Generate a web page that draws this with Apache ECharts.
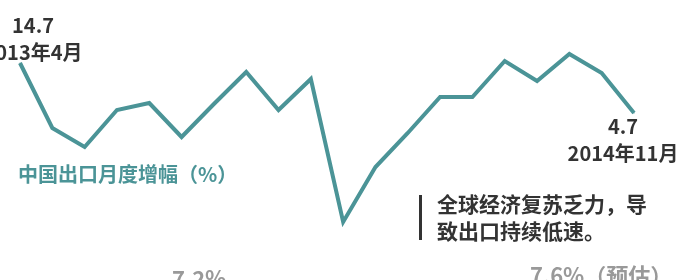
<!DOCTYPE html>
<html>
<head>
<meta charset="utf-8">
<script src="https://cdn.jsdelivr.net/npm/echarts@6/dist/echarts.min.js"></script>
<style>
  html, body { margin: 0; padding: 0; background: #fff; }
  #chart { width: 698px; height: 280px; }
</style>
</head>
<body>
<div id="chart"></div>
<script>
const months = [
  '2013年4月', '2013年5月', '2013年6月', '2013年7月', '2013年8月', '2013年9月',
  '2013年10月', '2013年11月', '2013年12月', '2014年1月', '2014年2月', '2014年3月',
  '2014年4月', '2014年5月', '2014年6月', '2014年7月', '2014年8月', '2014年9月',
  '2014年10月', '2014年11月'
]
const exportGrowth = [
  14.7, 1.7, -2.1, 5.3, 6.7, -0.1, 6.5, 12.9, 5.3, 11.5,
  -17.1, -6.1, 0.7, 7.9, 7.9, 15.1, 11.1, 16.5, 12.7, 4.7
]
const seriesTitle = '中国出口月度增幅（%）'
const noteLines = ['全球经济复苏乏力，导', '致出口持续低速。']
const yearFigures = ['7.2%', '7.6%（预估）']

const teal = '#4b9497'
const font = '"Noto Sans CJK SC", "Noto Sans", sans-serif'
const last = exportGrowth.length - 1

const chart = echarts.init(document.getElementById('chart'))

chart.setOption({
  animation: false,
  grid: { left: 20, right: 64, top: 36.5, bottom: 43.5 },
  xAxis: {
    type: 'category',
    data: months,
    boundaryGap: false,
    show: false
  },
  yAxis: {
    type: 'value',
    min: -20,
    max: 20,
    show: false
  },
  series: [
    {
      type: 'line',
      symbol: 'circle',
      symbolSize: 1,
      showSymbol: true,
      showAllSymbol: true,
      itemStyle: { color: teal },
      lineStyle: { color: teal, width: 4, join: 'miter' },
      data: exportGrowth.map((v, i) => {
        if (i === 0) {
          return {
            value: v,
            label: { show: true, position: 'top', distance: 1, offset: [13, 4] }
          }
        }
        if (i === last) {
          return {
            value: v,
            label: { show: true, position: 'bottom', distance: 3, offset: [-11, -4] }
          }
        }
        return v
      }),
      label: {
        show: false,
        formatter: (p) => '{v|' + p.value + '}\n{d|' + p.name + '}',
        rich: {
          v: { fontSize: 20, fontWeight: 'bold', color: '#333', fontFamily: font, lineHeight: 27, align: 'center' },
          d: { fontSize: 20, fontWeight: 'bold', color: '#333', fontFamily: font, lineHeight: 27, align: 'center' }
        }
      }
    }
  ],
  graphic: [
    {
      type: 'text',
      left: 18,
      top: 164,
      style: { text: seriesTitle, fill: teal, font: 'bold 20px ' + font }
    },
    {
      type: 'rect',
      left: 419,
      top: 195,
      shape: { width: 3, height: 45 },
      style: { fill: '#333' }
    },
    {
      type: 'text',
      left: 437,
      top: 191,
      style: { text: noteLines.join('\n'), fill: '#333', font: 'bold 21px ' + font, lineHeight: 27 }
    },
    {
      type: 'text',
      left: 172,
      top: 268,
      style: { text: yearFigures[0], fill: '#999', font: 'bold 22px ' + font }
    },
    {
      type: 'text',
      left: 530,
      top: 265,
      style: { text: yearFigures[1], fill: '#999', font: 'bold 22px ' + font }
    }
  ]
})
</script>
</body>
</html>
